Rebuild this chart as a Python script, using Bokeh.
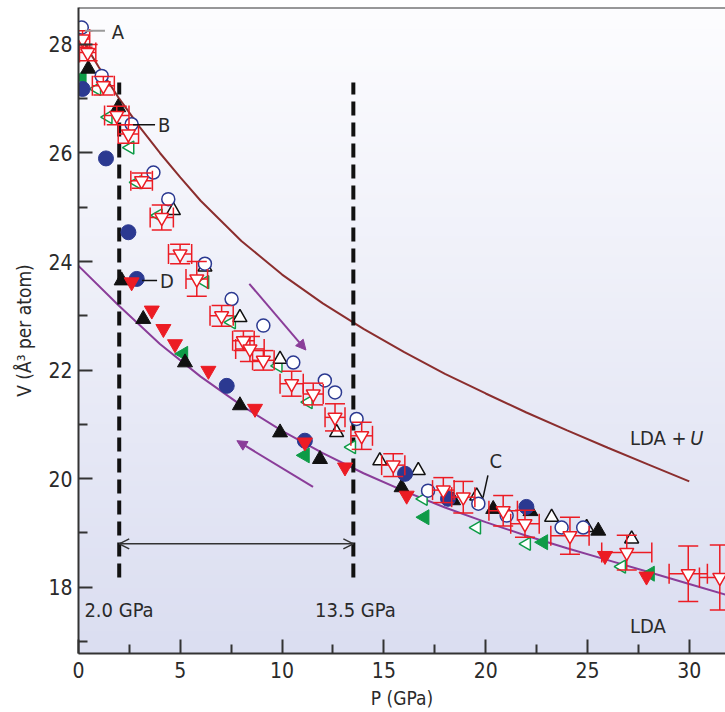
import numpy as np
from bokeh.plotting import figure
from bokeh.models import (Range1d, Label, Arrow, OpenHead, NormalHead,
                          FixedTicker, Span)
from bokeh.embed import file_html
from bokeh.resources import INLINE

# ---------------- data: V (Å^3 per atom) versus P (GPa) ----------------
# calculated equations of state
lda_p = [0, 2, 4, 6, 8, 10, 12, 14, 16, 18, 20, 22, 24, 26, 28, 30, 32]
lda_v = [23.92, 23.18, 22.48, 21.88, 21.35, 20.88, 20.47, 20.10, 19.77,
         19.47, 19.20, 18.95, 18.72, 18.50, 18.28, 18.06, 17.84]

ldau_p = [0, 1, 2, 3, 4, 5, 6, 8, 10, 12, 14, 16, 18, 20, 22, 24, 26, 28, 30]
ldau_v = [28.20, 27.58, 27.00, 26.48, 26.00, 25.55, 25.12, 24.38, 23.76,
          23.23, 22.76, 22.33, 21.93, 21.57, 21.22, 20.89, 20.57, 20.26, 19.95]

# measured runs
red_open_p = [0.20, 0.45, 1.22, 1.88, 2.45, 3.10, 4.09, 4.99, 5.81, 7.03, 8.10,
              8.42, 9.08, 10.47, 11.53, 12.60, 13.91, 15.46, 17.92, 18.90,
              20.86, 21.93, 24.14, 26.93, 29.95, 31.50]
red_open_v = [28.10, 27.85, 27.24, 26.69, 26.35, 25.49, 24.81, 24.14, 23.68,
              23.00, 22.54, 22.39, 22.18, 21.75, 21.56, 21.13, 20.79, 20.25,
              19.79, 19.66, 19.41, 19.17, 18.95, 18.64, 18.25, 18.18]
red_open_perr = [0.35, 0.40, 0.54, 0.60, 0.50, 0.53, 0.57, 0.57, 0.53, 0.57,
                 0.53, 0.70, 0.53, 0.57, 0.49, 0.49, 0.53, 0.57, 0.53, 0.57,
                 0.70, 0.70, 0.94, 1.23, 0.94, 1.00]
red_open_verr = [0.15, 0.15, 0.17, 0.17, 0.17, 0.14, 0.23, 0.18, 0.32, 0.19,
                 0.18, 0.23, 0.18, 0.23, 0.20, 0.25, 0.25, 0.21, 0.23, 0.29,
                 0.28, 0.25, 0.34, 0.32, 0.51, 0.60]

red_fill_p = [2.61, 3.60, 4.17, 4.74, 6.38, 8.67, 11.12, 13.09, 16.12, 25.86, 27.90]
red_fill_v = [23.62, 23.10, 22.76, 22.48, 21.99, 21.29, 20.67, 20.21, 19.69, 18.58, 18.20]

blue_fill_p = [0.20, 1.35, 2.45, 2.86, 7.28, 11.12, 16.04, 18.15, 22.00]
blue_fill_v = [27.18, 25.90, 24.54, 23.68, 21.71, 20.70, 20.09, 19.63, 19.48]

blue_open_p = [0.16, 1.14, 2.61, 3.68, 4.41, 6.21, 7.52, 9.08, 10.55, 12.10,
               12.60, 13.66, 17.17, 19.64, 21.03, 23.73, 24.79]
blue_open_v = [28.31, 27.42, 26.53, 25.64, 25.15, 23.96, 23.31, 22.82, 22.14,
               21.81, 21.59, 21.10, 19.78, 19.54, 19.32, 19.10, 19.10]

black_fill_p = [0.48, 1.95, 2.12, 3.18, 5.23, 7.93, 9.90, 11.86, 15.87, 18.40,
                20.37, 22.20, 25.53]
black_fill_v = [27.55, 26.84, 23.65, 22.94, 22.14, 21.35, 20.85, 20.36, 19.84,
                19.60, 19.44, 19.40, 19.04]

black_open_p = [4.66, 6.21, 7.93, 9.90, 12.68, 14.80, 16.69, 19.56, 23.24, 24.96, 27.17]
black_open_v = [24.94, 23.90, 22.97, 22.20, 20.85, 20.33, 20.15, 19.68, 19.29, 19.10, 18.89]

green_fill_p = [0.16, 5.15, 11.12, 17.00, 22.83, 28.07]
green_fill_v = [27.39, 22.30, 20.43, 19.29, 18.83, 18.25]

green_open_p = [0.90, 1.46, 2.53, 2.86, 3.92, 6.21, 7.52, 9.81, 11.29, 13.42,
                16.94, 19.56, 22.01, 26.68]
green_open_v = [27.18, 26.66, 26.10, 25.46, 24.85, 23.62, 22.88, 22.08, 21.41,
                20.58, 19.63, 19.10, 18.80, 18.38]

# transition pressures marked by dashed lines
transition_p = [2.0, 13.5]

x_ticks = [0, 5, 10, 15, 20, 25, 30]
x_minor = [2.5, 7.5, 12.5, 17.5, 22.5, 27.5]
y_ticks = [18, 20, 22, 24, 26, 28]
y_minor = [17, 19, 21, 23, 25, 27]

# ---------------- styling ----------------
FONT = "DejaVu Sans Condensed, Liberation Sans, sans-serif"
TXT = "#2a2a2a"
RED = "#ec1c24"
BLUE = "#2b3991"
GREEN = "#0e9b47"
BLACK = "#111111"
PURPLE = "#8a3d99"
BROWN = "#8b2e2e"

X0, X1 = 0.0, 31.78
Y0, Y1 = 16.78, 28.68

p = figure(width=725, height=712, output_backend="svg", toolbar_location=None,
           x_range=Range1d(X0, X1), y_range=Range1d(Y0, Y1),
           min_border_left=78, min_border_right=0, min_border_top=7,
           min_border_bottom=59)
p.outline_line_color = None
p.background_fill_color = "white"
p.border_fill_color = "white"
p.xgrid.visible = False
p.ygrid.visible = False

# vertical white-to-lavender wash behind the data
n = 240
img = np.empty((n, 1), dtype=np.uint32)
view = img.view(dtype=np.uint8).reshape((n, 1, 4))
t = np.linspace(0.0, 1.0, n)          # 0 = bottom, 1 = top
bottom = np.array([219, 222, 241])
top = np.array([253, 253, 255])
for i, f in enumerate(t):
    c = bottom + (top - bottom) * f
    view[i, 0, 0:3] = c.astype(np.uint8)
    view[i, 0, 3] = 255
p.image_rgba(image=[img], x=X0, y=Y0, dw=X1 - X0, dh=Y1 - Y0, level="image")

# top border of the frame
p.add_layout(Span(location=Y1, dimension="width", line_color="#333333", line_width=2))

# axes
for ax in (p.xaxis, p.yaxis):
    ax.axis_line_width = 2
    ax.axis_line_color = "#333333"
    ax.major_tick_line_width = 2
    ax.minor_tick_line_width = 2
    ax.major_tick_line_color = "#333333"
    ax.minor_tick_line_color = "#333333"
    ax.major_tick_in = 14
    ax.major_tick_out = 0
    ax.minor_tick_in = 9
    ax.minor_tick_out = 0
    ax.major_label_text_font = FONT
    ax.major_label_text_font_size = "21px"
    ax.major_label_text_color = TXT
    ax.axis_label_text_font = FONT
    ax.axis_label_text_font_size = "19px"
    ax.axis_label_text_font_style = "normal"
    ax.axis_label_text_color = TXT
p.xaxis.ticker = FixedTicker(ticks=x_ticks, minor_ticks=x_minor)
p.yaxis.ticker = FixedTicker(ticks=y_ticks, minor_ticks=y_minor)
p.xaxis.major_label_standoff = 8
p.yaxis.major_label_standoff = 6
p.xaxis.axis_label = "P (GPa)"
p.yaxis.axis_label = "V (Å³ per atom)"
p.xaxis.axis_label_standoff = 6
p.yaxis.axis_label_standoff = 10

# model curves
p.line(ldau_p, ldau_v, line_color=BROWN, line_width=2)
p.line(lda_p, lda_v, line_color=PURPLE, line_width=2)

# dashed transition markers
for tp in transition_p:
    p.line([tp, tp], [18.18, 27.3], line_color=BLACK, line_width=4, line_dash="14 7")

# markers
TRI = 15
p.scatter(green_open_p, green_open_v, marker="triangle", angle=np.pi / 2, size=13,
          fill_color="white", line_color=GREEN, line_width=1.5)
p.scatter(green_fill_p, green_fill_v, marker="triangle", angle=np.pi / 2, size=TRI,
          fill_color=GREEN, line_color=GREEN)
p.scatter(black_open_p, black_open_v, marker="triangle", size=14,
          fill_color="white", line_color=BLACK, line_width=1.5)
p.scatter(black_fill_p, black_fill_v, marker="triangle", size=TRI,
          fill_color=BLACK, line_color=BLACK)
p.scatter(blue_open_p, blue_open_v, marker="circle", size=13,
          fill_color="white", line_color=BLUE, line_width=1.5)
p.scatter(blue_fill_p, blue_fill_v, marker="circle", size=15,
          fill_color=BLUE, line_color=BLUE)
p.scatter(red_fill_p, red_fill_v, marker="inverted_triangle", size=TRI,
          fill_color=RED, line_color=RED)

# error bars of the open red run
rp = np.array(red_open_p)
rv = np.array(red_open_v)
pe = np.array(red_open_perr)
ve = np.array(red_open_verr)
p.segment(rp - pe, rv, rp + pe, rv, line_color=RED, line_width=1.5)
p.segment(rp, rv - ve, rp, rv + ve, line_color=RED, line_width=1.5)
p.scatter(np.concatenate([rp, rp]), np.concatenate([rv - ve, rv + ve]),
          marker="dash", size=20, line_color=RED, line_width=1.5)
p.scatter(np.concatenate([rp - pe, rp + pe]), np.concatenate([rv, rv]),
          marker="dash", angle=np.pi / 2, size=20, line_color=RED, line_width=1.5)
p.scatter(red_open_p, red_open_v, marker="inverted_triangle", size=14,
          fill_color="white", line_color=RED, line_width=1.5)

# pointer lines for the labelled states
p.line([0.32, 1.30], [28.25, 28.25], line_color="#9a9a9a", line_width=2)
p.line([2.68, 3.76], [26.52, 26.52], line_color=BLACK, line_width=1.5)
p.line([3.12, 3.86], [23.65, 23.65], line_color=BLACK, line_width=1.5)
p.line([20.11, 19.87], [20.06, 19.65], line_color=BLACK, line_width=1.5)

# arrows
p.add_layout(Arrow(x_start=transition_p[0], y_start=18.8, x_end=transition_p[1], y_end=18.8,
                   line_color="#333333", line_width=1.5,
                   start=OpenHead(size=10, line_color="#333333", line_width=1.5),
                   end=OpenHead(size=10, line_color="#333333", line_width=1.5)))
p.add_layout(Arrow(x_start=8.39, y_start=23.59, x_end=11.17, y_end=22.37,
                   line_color=PURPLE, line_width=2,
                   end=NormalHead(size=10, fill_color=PURPLE, line_color=PURPLE)))
p.add_layout(Arrow(x_start=11.52, y_start=19.85, x_end=7.78, y_end=20.70,
                   line_color=PURPLE, line_width=2,
                   end=NormalHead(size=10, fill_color=PURPLE, line_color=PURPLE)))


def text(x, y, s, size="20px", align="left", style="normal", angle=0.0):
    p.add_layout(Label(x=x, y=y, text=s, text_font=FONT, text_font_size=size,
                       text_color=TXT, text_align=align, text_baseline="middle",
                       text_font_style=style, angle=angle))


text(0.29, 17.58, f"{transition_p[0]:.1f} GPa")
text(11.62, 17.58, f"{transition_p[1]:.1f} GPa")
text(27.09, 17.29, "LDA")
text(27.09, 20.75, "LDA + ")
text(30.05, 20.75, "U", style="italic")
text(1.63, 28.22, "A")
text(3.90, 26.52, "B")
text(20.50, 20.33, "C", align="center")
text(4.00, 23.65, "D")

open("out.html", "w").write(file_html(p, INLINE))
